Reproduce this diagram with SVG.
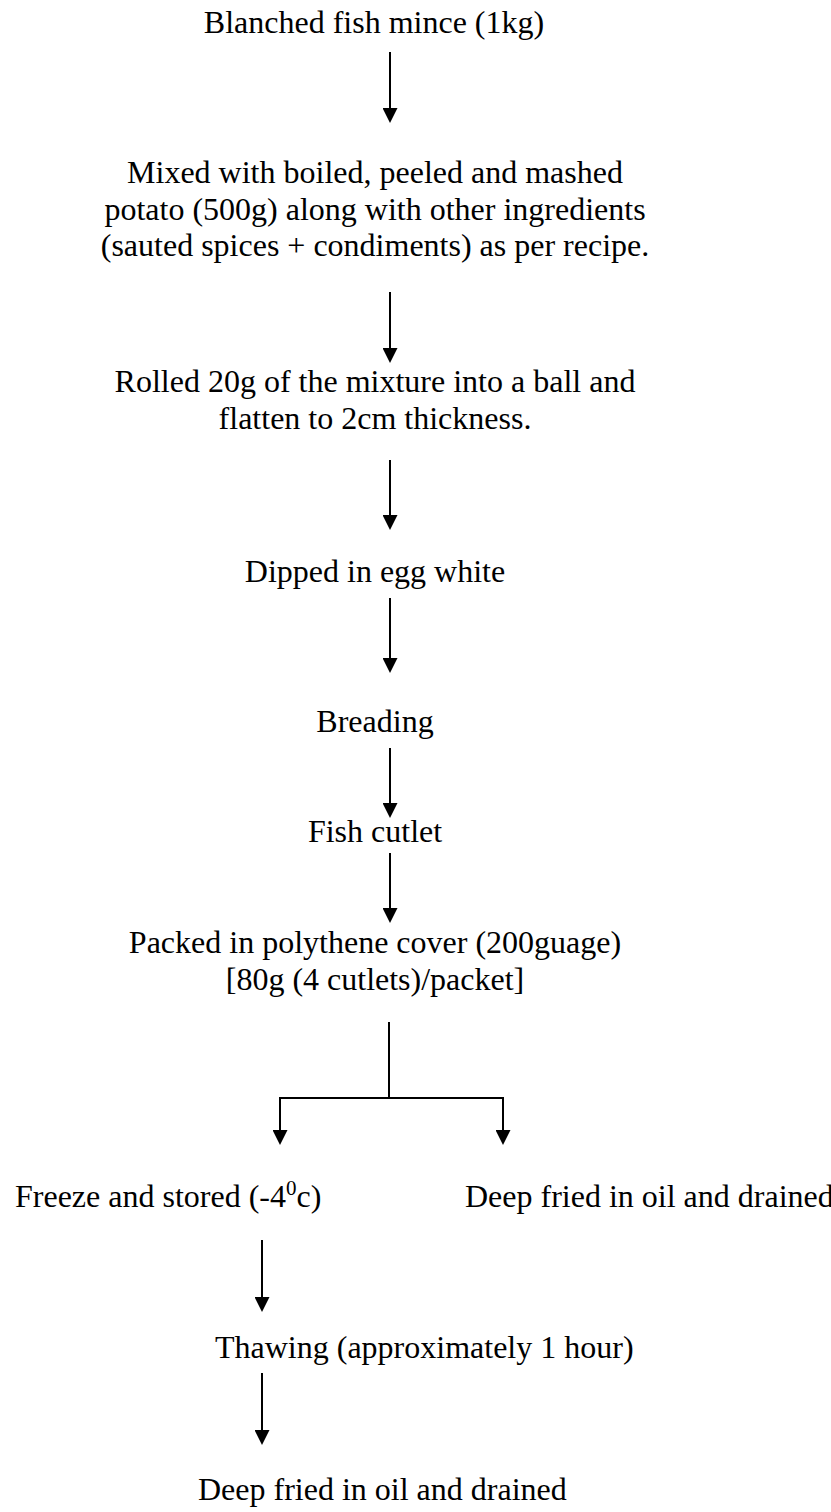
<svg xmlns="http://www.w3.org/2000/svg" width="831" height="1512" viewBox="0 0 831 1512">
<style>
text{font-family:"Liberation Serif","Times New Roman",serif;font-size:32px;fill:#000}
.c{text-anchor:middle}
.ln{stroke:#000;stroke-width:2;fill:none}
</style>
<defs>
<marker id="ah" viewBox="0 0 15 15" refX="7" refY="7.5" markerWidth="15" markerHeight="15" markerUnits="userSpaceOnUse" orient="auto">
<path d="M0,0 L15,7.5 L0,15 z" fill="#000"/>
</marker>
</defs>
<rect width="831" height="1512" fill="#fff"/>
<g id="n1"><text class="c" x="374" y="33">Blanched fish mince (1kg)</text></g>
<g id="n2">
<text class="c" x="375" y="183">Mixed with boiled, peeled and mashed</text>
<text class="c" x="375" y="220">potato (500g) along with other ingredients</text>
<text class="c" x="375" y="256">(sauted spices + condiments) as per recipe.</text>
</g>
<g id="n3">
<text class="c" x="375" y="392">Rolled 20g of the mixture into a ball and</text>
<text class="c" x="375" y="429">flatten to 2cm thickness.</text>
</g>
<g id="n4"><text class="c" x="375" y="582">Dipped in egg white</text></g>
<g id="n5"><text class="c" x="375" y="732">Breading</text></g>
<g id="n6"><text class="c" x="375" y="842">Fish cutlet</text></g>
<g id="n7">
<text class="c" x="375" y="953">Packed in polythene cover (200guage)</text>
<text class="c" x="375" y="990">[80g (4 cutlets)/packet]</text>
</g>
<g id="n8"><text x="15" y="1207">Freeze and stored (-4<tspan dy="-12" font-size="21">0</tspan><tspan dy="12">c)</tspan></text></g>
<g id="n9"><text x="465" y="1207">Deep fried in oil and drained</text></g>
<g id="n10"><text x="215" y="1358">Thawing (approximately 1 hour)</text></g>
<g id="n11"><text x="198" y="1500">Deep fried in oil and drained</text></g>
<g id="connectors">
<line class="ln" x1="390" y1="52" x2="390" y2="115" marker-end="url(#ah)"/>
<line class="ln" x1="390" y1="292" x2="390" y2="355" marker-end="url(#ah)"/>
<line class="ln" x1="390" y1="460" x2="390" y2="522" marker-end="url(#ah)"/>
<line class="ln" x1="390" y1="598" x2="390" y2="665" marker-end="url(#ah)"/>
<line class="ln" x1="390" y1="748" x2="390" y2="810" marker-end="url(#ah)"/>
<line class="ln" x1="390" y1="853" x2="390" y2="915" marker-end="url(#ah)"/>
<line class="ln" x1="389" y1="1022" x2="389" y2="1098"/>
<polyline class="ln" points="280,1137 280,1098 503,1098 503,1137"/>
<line class="ln" x1="280" y1="1130" x2="280" y2="1137" marker-end="url(#ah)"/>
<line class="ln" x1="503" y1="1130" x2="503" y2="1137" marker-end="url(#ah)"/>
<line class="ln" x1="262" y1="1240" x2="262" y2="1304" marker-end="url(#ah)"/>
<line class="ln" x1="262" y1="1373" x2="262" y2="1437" marker-end="url(#ah)"/>
</g>
</svg>
